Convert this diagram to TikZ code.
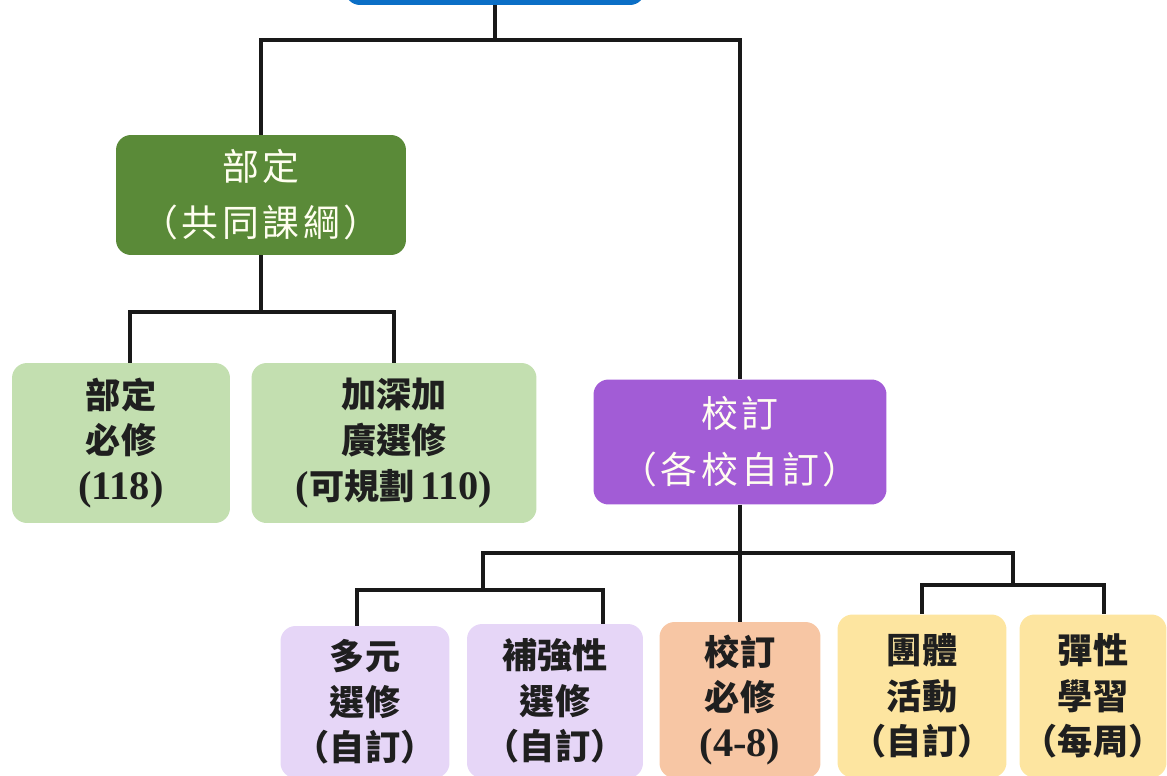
\documentclass[tikz,border=0pt]{standalone}
\usepackage{fontspec}
\newfontfamily\cjk{Noto Sans CJK TC}
\newfontfamily\cjkw[LetterSpace=10]{Noto Sans CJK TC}
\newfontfamily\dgfont{Liberation Serif}
\newcommand{\dg}[1]{{\dgfont\bfseries\fontsize{23}{26}\selectfont #1}}
\definecolor{topblue}{HTML}{0B6FC6}
\definecolor{bdgreen}{HTML}{5A8A38}
\definecolor{ltgreen}{HTML}{C3DFB0}
\definecolor{xdpurple}{HTML}{A25CD6}
\definecolor{ltpurple}{HTML}{E6D6F7}
\definecolor{ltorange}{HTML}{F7C6A4}
\definecolor{ltyellow}{HTML}{FDE5A0}
\tikzset{box/.style={rounded corners=0.3cm, align=center, inner sep=0pt},
         hibox/.style={box, text=white!94!yellow, font=\cjkw\fontsize{21}{32}\selectfont},
         lobox/.style={box, text=black!88, font=\cjk\bfseries\fontsize{20}{26}\selectfont},
         tree/.style={line width=2.2pt, draw=black!90}
}

\begin{document}
\begin{tikzpicture}[x=0.02cm,y=-0.02cm]
  \useasboundingbox (0,0) rectangle (1167,775);
  \clip (0,0) rectangle (1167,775);
  % level 0 and 1
  \node[box, fill=topblue, minimum width=6cm, minimum height=1.4cm] (top) at (495,-30) {};
  \node[hibox, fill=bdgreen, minimum width=5.8cm, minimum height=2.4cm] (bd) at (261,195) {部定\\（共同課綱）};
  \node[hibox, fill=xdpurple, minimum width=5.86cm, minimum height=2.5cm] (xd) at (740,442) {校訂\\（各校自訂）};
  % level 2, left
  \node[lobox, fill=ltgreen, minimum width=4.36cm, minimum height=3.2cm] (bd1) at (121,443) {部定\\必修\\\dg{(118)}};
  \node[lobox, fill=ltgreen, minimum width=5.7cm, minimum height=3.2cm] (bd2) at (394,443) {加深加\\廣選修\\\dg{(}可規劃\,\dg{110)}};
  % level 2, right
  \node[lobox, fill=ltpurple, minimum width=3.38cm, minimum height=3.04cm] (dy) at (365,702) {多元\\選修\\（自訂）};
  \node[lobox, fill=ltpurple, minimum width=3.52cm, minimum height=3.08cm] (bq) at (555,701) {補強性\\選修\\（自訂）};
  \node[lobox, fill=ltorange, minimum width=3.22cm, minimum height=3.12cm] (xb) at (740,700) {校訂\\必修\\\dg{(4-8)}};
  \node[lobox, fill=ltyellow, minimum width=3.38cm, minimum height=3.26cm] (tt) at (922,696) {團體\\活動\\（自訂）};
  \node[lobox, fill=ltyellow, minimum width=2.94cm, minimum height=3.26cm] (tx) at (1093,696) {彈性\\學習\\（每周）};
  % junctions
  \coordinate (j1) at (495,40);
  \coordinate (j2) at (261,312);
  \coordinate (j3) at (740,553);
  \coordinate (j4) at (483,590);
  \coordinate (j5) at (1013,585);
  \draw[tree] (top.south) -- (j1);
  \draw[tree] (j1) -| (bd.north);
  \draw[tree] (j1) -| (xd.north);
  \draw[tree] (bd.south) -- (j2);
  \draw[tree] (j2) -| ([xshift=0.18cm]bd1.north);
  \draw[tree] (j2) -| (bd2.north);
  \draw[tree] (xd.south) -- (xb.north);
  \draw[tree] (j3) -| (j4);
  \draw[tree] (j3) -| (j5);
  \draw[tree] (j4) -| ([xshift=-0.16cm]dy.north);
  \draw[tree] (j4) -| ([xshift=-0.8cm]bq.north east);
  \draw[tree] (j5) -| (tt.north);
  \draw[tree] (j5) -| ([xshift=0.22cm]tx.north);
\end{tikzpicture}
\end{document}
